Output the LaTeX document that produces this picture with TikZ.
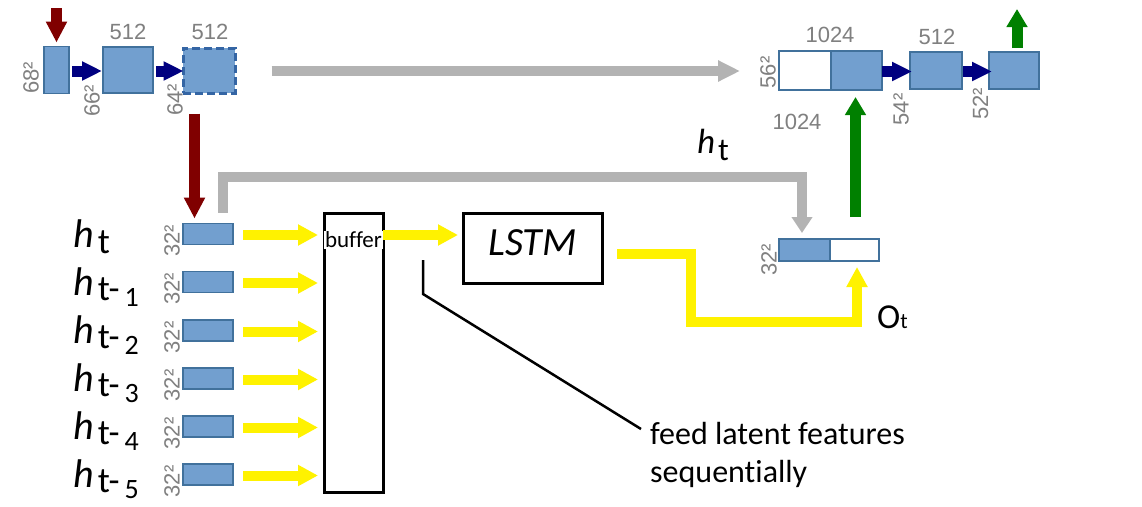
\documentclass[tikz,border=0pt]{standalone}
\usepackage{fontspec}
\setmainfont{Carlito}[Ligatures=NoCommon]
\newfontfamily\numfont{Liberation Sans}
\usetikzlibrary{arrows.meta,calc}
\definecolor{boxfill}{RGB}{114,159,207}
\definecolor{boxline}{RGB}{65,113,156}
\definecolor{dashline}{RGB}{52,101,164}
\definecolor{navyc}{RGB}{0,0,128}
\definecolor{redc}{RGB}{128,0,0}
\definecolor{greenc}{RGB}{0,128,0}
\definecolor{grayc}{RGB}{179,179,179}
\definecolor{yel}{RGB}{255,242,0}
\definecolor{numgray}{RGB}{128,128,128}
\newcommand{\myhpart}{{\fontsize{40}{40}\selectfont\itshape h}}
\newcommand{\mytfont}{\fontsize{36}{36}\selectfont}
\newcommand{\mydfont}{\fontsize{28}{28}\selectfont}
\begin{document}
\begin{tikzpicture}[x=1pt,y=-1pt,
  bluebox/.style={draw=boxline, fill=boxfill, line width=1.2pt, inner sep=0pt, outer sep=0pt},
  whitebox/.style={draw=boxline, fill=white, line width=1.2pt, inner sep=0pt, outer sep=0pt},
  num/.style={font=\numfont\fontsize{22}{22}\selectfont, text=numgray, inner sep=0pt},
  rnum/.style={num, rotate=90},
  navyarrow/.style={navyc, line width=11pt, -{Triangle[width=18pt,length=20pt]}},
  redarrow/.style={redc, line width=11pt, -{Triangle[width=20pt,length=21pt]}},
  greenarrow/.style={greenc, line width=11pt, -{Triangle[width=20pt,length=18pt]}},
  grayarrow/.style={grayc, line width=10pt, -{Triangle[width=20pt,length=22pt]}},
  yarrow/.style={yel, line width=10pt, -{Triangle[width=20pt,length=20pt]}},
  blackbox/.style={draw=black, line width=3pt, inner sep=0pt, outer sep=0pt},
  lbl/.style={anchor=base west, inner sep=0pt}
]
\useasboundingbox (0,0) rectangle (1142,506);
\fill[white] (0,0) rectangle (1142,506);

% ---------- top encoder ----------
\node[bluebox, minimum width=25pt, minimum height=47pt] (A) at (56.5,70) {};
\node[bluebox, minimum width=50pt, minimum height=46pt] (B) at (128,70) {};
\node[draw=dashline, fill=boxfill, line width=3pt, dash pattern=on 8pt off 4pt,
      minimum width=52pt, minimum height=45pt, inner sep=0pt] (C) at (209,70.5) {};
\node[num] (nB) at (128,32) {512};
\node[num] (nC) at (210,32) {512};
\node[rnum] (lA) at (31,78) {68²};
\node[rnum] (lB) at (92,101) {66²};
\node[rnum] (lC) at (175,100) {64²};
\coordinate (redin) at (56.5,8);
\draw[redarrow] (redin) -- ($(A.north)+(0,-4)$);
\draw[navyarrow] ($(A.east)+(3,1)$) -- ($(B.west)+(-1,1)$);
\draw[navyarrow] ($(B.east)+(3,1)$) -- ($(C.west)+(2,0.5)$);

% ---------- top decoder ----------
\node[whitebox, minimum width=52pt, minimum height=39pt] (R1) at (805,70.5) {};
\node[bluebox, minimum width=51pt, minimum height=39pt] (R2) at (856.5,70.5) {};
\node[bluebox, minimum width=52pt, minimum height=37pt] (R3) at (936,70.5) {};
\node[bluebox, minimum width=50pt, minimum height=37pt] (R4) at (1014,70.5) {};
\node[num] (n1024a) at (830,35) {1024};
\node[num] (n1024b) at (797,122) {1024};
\node[num] (n512r) at (937,37) {512};
\node[rnum] (l56) at (768,72.5) {56²};
\node[rnum] (l54) at (901,109.5) {54²};
\node[rnum] (l52) at (980.5,104) {52²};
\draw[navyarrow] ($(R2.east)+(0,1)$) -- ($(R3.west)+(2,1)$);
\draw[navyarrow] ($(R3.east)+(1,1)$) -- ($(R4.west)+(3,1)$);
\coordinate (gout) at (1017,9);
\draw[greenarrow] ($(R4.north)+(3,-4)$) -- (gout);

% skip connection
\draw[grayarrow] ($(C.east)+(35,0.5)$) -- ($(R1.west)+(-39,0.5)$);

% ---------- buffer + rows ----------
\node[blackbox, minimum width=59pt, minimum height=279pt] (buf) at (353.5,352.5) {};
\foreach \i/\y in {0/234,1/282,2/330.5,3/378.5,4/426.5,5/474.5}{
  \node[bluebox, minimum width=50pt, minimum height=21pt] (r\i) at (208,\y) {};
  \node[rnum] (s\i) at (172,\y+7) {32²};
  \draw[yarrow] ($(r\i.east)+(10,1)$) -- ($(buf.west |- r\i.east)+(-6,1)$);
}
\node[lbl] (h0) at (73,247) {\myhpart\hspace{4pt}\raisebox{-6pt}{\mytfont t}};
\foreach \i/\y in {1/282,2/330.5,3/378.5,4/426.5,5/474.5}{
  \node[lbl] (h\i) at (73,\y+13) {\myhpart\hspace{4pt}\raisebox{-5pt}{\mytfont t-\hspace{5pt}\raisebox{-6pt}{\mydfont\i}}};
}
\node[fill=white, inner sep=1pt, font=\fontsize{23}{23}\selectfont] (buftxt) at (353.5,240) {buffer};

% LSTM
\node[blackbox, minimum width=139pt, minimum height=70pt, text depth=10pt,
      font=\fontsize{40}{40}\selectfont\itshape] (lstm) at (532.5,248) {LSTM};
\draw[yarrow] ($(buf.north east)+(0,22)$) -- ($(lstm.west)+(-5,-13)$);

% concat box
\node[bluebox, minimum width=51pt, minimum height=22pt] (cb) at (804.5,250) {};
\node[whitebox, minimum width=49pt, minimum height=22pt] (cw) at (854.5,250) {};
\node[rnum] (lcat) at (769,260) {32²};

% h_t bracket
\coordinate (gcorner) at (802,177);
\draw[grayc, line width=10pt, line join=miter, -{Triangle[width=20pt,length=16pt]}]
  ($(r0.north)+(14.5,-11)$) |- (gcorner) -- ($(cb.north)+(-2.5,-6)$);
\node[lbl] (htop) at (697,153) {{\fontsize{35}{35}\selectfont\itshape h}\hspace{3pt}\raisebox{-7pt}{\fontsize{32}{32}\selectfont t}};

% red down arrow into h_t
\draw[redarrow] ($(C.south)+(-14.5,19)$) -- ($(r0.north)+(-13.5,-5)$);

% LSTM output
\coordinate (ymid) at (691,322);
\draw[yarrow, line join=miter] ($(lstm.east)+(15,5.5)$) -| (ymid) -| ($(cw.south)+(2.5,6)$);
\node[lbl] (ot) at (877,328) {\fontsize{35}{35}\selectfont O{\fontsize{22}{22}\selectfont t}};

% green up arrow
\draw[greenarrow] ($(cw.north)+(1,-22)$) -- ($(R2.south)+(-1,7)$);

% annotation
\node[anchor=north west, inner sep=0pt, align=left, font=\fontsize{32}{38}\selectfont] (feed) at (650,422) {feed latent features\\sequentially};
\coordinate (lead1) at (423,260);
\coordinate (lead2) at (423,294);
\draw[line width=2.5pt] (lead1) -- (lead2) -- ($(feed.north west)+(-9,7)$);
\end{tikzpicture}
\end{document}
